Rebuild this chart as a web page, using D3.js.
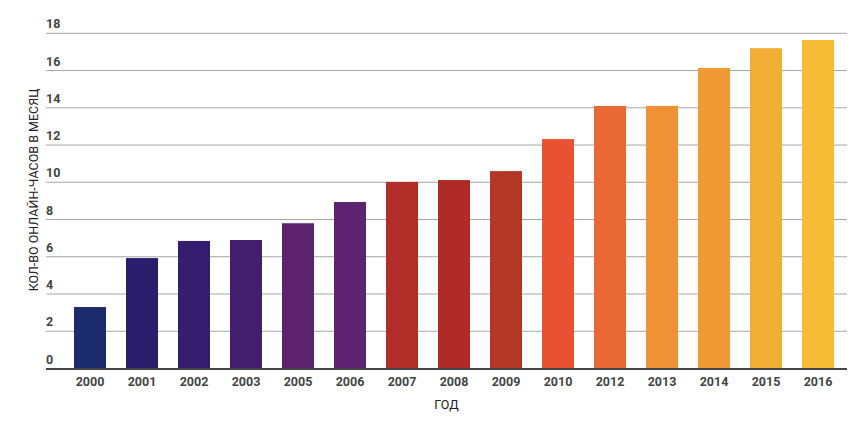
<!DOCTYPE html>
<html lang="ru">
<meta charset="utf-8" />
<style>
    body { margin: 0; background: #fff; }
    svg { font-family: Roboto, "Noto Sans", sans-serif; }
    .tick-label { font-size: 12.5px; font-weight: bold; fill: #444; }
    .axis-title { font-size: 12.5px; fill: #222; }
</style>
<body>
<svg width="861" height="424"></svg>
<script src="https://d3js.org/d3.v7.min.js"></script>
<script>
    var years = ["2000", "2001", "2002", "2003", "2005", "2006", "2007", "2008",
        "2009", "2010", "2012", "2013", "2014", "2015", "2016"]
    var hours = [3.3, 5.93, 6.85, 6.9, 7.8, 8.94, 10.02, 10.12, 10.6, 12.32, 14.1, 14.1, 16.14, 17.2, 17.64]
    var colors = ["#1b2b6b", "#291d6c", "#351e6f", "#431f6d", "#5c226e", "#5e2370", "#b12d27", "#b02b26",
        "#b33825", "#e85132", "#e96934", "#ef9236", "#f09a35", "#f2ad35", "#f5bc36"]
    var yTicks = [0, 2, 4, 6, 8, 10, 12, 14, 16, 18]

    var svg = d3.select("svg")
    // note: "top" is a reserved window prop, so use plot* names
    var plotLeft = 46, plotRight = 847, plotTop = 33.3, plotBottom = 368.5

    var x = d3.scaleBand()
        .domain(years)
        .range([64, 844])
        .paddingInner(20 / 52)
        .paddingOuter(10 / 52)

    var y = d3.scaleLinear()
        .domain([0, 18])
        .range([plotBottom, plotTop])

    // grid lines + labels
    svg.selectAll("line.grid")
        .data(yTicks.filter(d => d > 0))
        .enter()
        .append("line")
        .attr("class", "grid")
        .attr("x1", plotLeft)
        .attr("x2", plotRight)
        .attr("y1", d => y(d))
        .attr("y2", d => y(d))
        .attr("stroke", "#a6a6a6")
        .attr("stroke-width", 1)

    svg.selectAll("text.ylab")
        .data(yTicks)
        .enter()
        .append("text")
        .attr("class", "tick-label ylab")
        .attr("x", plotLeft)
        .attr("y", d => y(d) - 5)
        .text(d => d)

    svg.selectAll("rect.bar")
        .data(hours)
        .enter()
        .append("rect")
        .attr("class", "bar")
        .attr("x", (d, i) => x(years[i]))
        .attr("width", x.bandwidth())
        .attr("y", d => y(d))
        .attr("height", d => y(0) - y(d))
        .attr("fill", (d, i) => colors[i])

    // baseline
    svg.append("line")
        .attr("x1", plotLeft)
        .attr("x2", plotRight)
        .attr("y1", y(0) + 0.5)
        .attr("y2", y(0) + 0.5)
        .attr("stroke", "#444")
        .attr("stroke-width", 2)

    svg.selectAll("text.xlab")
        .data(years)
        .enter()
        .append("text")
        .attr("class", "tick-label xlab")
        .attr("x", d => x(d) + x.bandwidth() / 2)
        .attr("y", 386)
        .attr("text-anchor", "middle")
        .text(d => d)

    svg.append("text")
        .attr("class", "axis-title")
        .attr("x", (plotLeft + plotRight) / 2)
        .attr("y", 408.5)
        .attr("text-anchor", "middle")
        .text("ГОД")

    svg.append("text")
        .attr("class", "axis-title")
        .attr("transform", "translate(37.5, 190) rotate(-90)")
        .attr("text-anchor", "middle")
        .text("КОЛ-ВО ОНЛАЙН-ЧАСОВ В МЕСЯЦ")
</script>
</body>
</html>
